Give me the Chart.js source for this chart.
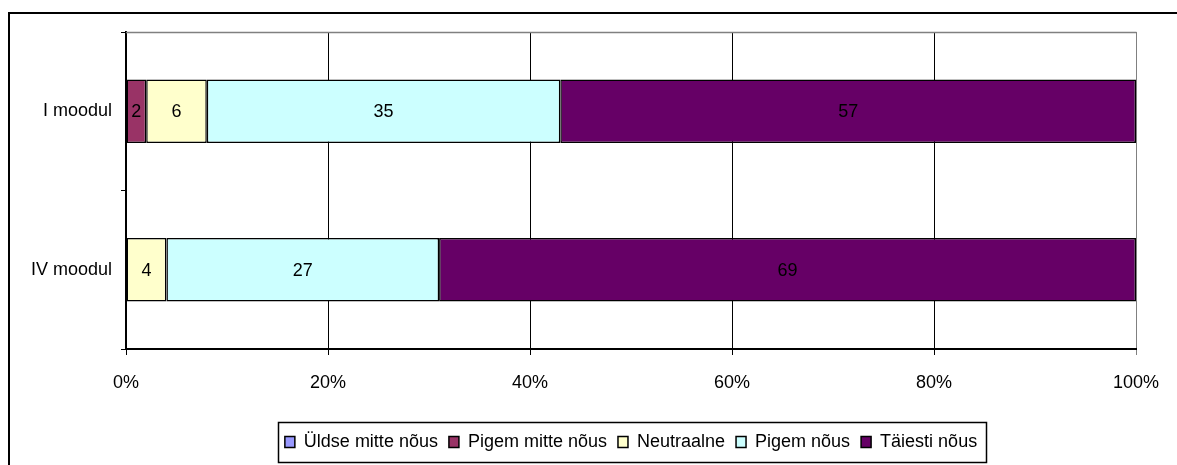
<!DOCTYPE html>
<html><head><meta charset="utf-8">
<script src="https://cdn.jsdelivr.net/npm/chart.js@4"></script>
<style>html,body{margin:0;padding:0;background:#fff;overflow:hidden}canvas{display:block}</style>
</head><body>
<canvas id="c" width="1177" height="465"></canvas>
<script>
const categories = ['I moodul', 'IV moodul'];
const seriesNames = ['Üldse mitte nõus', 'Pigem mitte nõus', 'Neutraalne', 'Pigem nõus', 'Täiesti nõus'];
const uldseMitteNous = [0, 0];
const pigemMitteNous = [2, 0];
const neutraalne = [6, 4];
const pigemNous = [35, 27];
const taiestiNous = [57, 69];
const xTickValues = [0, 20, 40, 60, 80, 100];
const seriesColors = ['#9999FF', '#993366', '#FFFFCC', '#CCFFFF', '#660066'];

const seriesData = [uldseMitteNous, pigemMitteNous, neutraalne, pigemNous, taiestiNous];
const FONT = "'Liberation Sans', Arial, sans-serif";
Chart.defaults.font.family = FONT;
Chart.defaults.font.size = 18;
Chart.defaults.color = '#000';

const framePlugin = {
  id: 'frame',
  beforeDraw(chart) {
    const ctx = chart.ctx;
    ctx.save();
    ctx.fillStyle = '#fff';
    ctx.fillRect(0, 0, chart.width, chart.height);
    ctx.strokeStyle = '#000';
    ctx.lineWidth = 2;
    ctx.strokeRect(9, 13, chart.width + 50, chart.height + 50);
    ctx.restore();
  },
  afterDatasetsDraw(chart) {
    const ctx = chart.ctx, a = chart.chartArea;
    ctx.save();
    ctx.strokeStyle = '#808080';
    ctx.lineWidth = 1.5;
    ctx.beginPath();
    ctx.moveTo(a.left, a.top + 0.5);
    ctx.lineTo(a.right + 0.5, a.top + 0.5);
    ctx.stroke();
    ctx.restore();
    // value labels
    ctx.save();
    ctx.font = '18px ' + FONT;
    ctx.fillStyle = '#000';
    ctx.textAlign = 'center';
    ctx.textBaseline = 'middle';
    chart.data.datasets.forEach((ds, di) => {
      const meta = chart.getDatasetMeta(di);
      meta.data.forEach((el, i) => {
        const v = ds.data[i];
        if (!v) return;
        ctx.fillText(String(v), (el.x + el.base) / 2, el.y + 1);
      });
    });
    ctx.restore();
  },
  afterDraw(chart) {
    const lg = chart.legend;
    if (!lg || !lg.legendHitBoxes || !lg.legendHitBoxes.length) return;
    const hb = lg.legendHitBoxes;
    let l = Infinity, r = -Infinity, cy = 0;
    hb.forEach(h => { l = Math.min(l, h.left); r = Math.max(r, h.left + h.width); cy = h.top + h.height / 2; });
    const ctx = chart.ctx;
    ctx.save();
    ctx.strokeStyle = '#000';
    ctx.lineWidth = 1.5;
    ctx.strokeRect(Math.round(l - 7) + 0.5, Math.round(cy - 20) + 0.5, Math.round(r - l + 16), 40);
    ctx.restore();
  }
};

new Chart(document.getElementById('c'), {
  type: 'bar',
  data: {
    labels: categories,
    datasets: seriesNames.map((name, i) => ({
      label: name,
      data: seriesData[i],
      backgroundColor: seriesColors[i],
      borderColor: '#000',
      borderWidth: 1.5,
      borderSkipped: false,
      categoryPercentage: 1,
      barPercentage: 0.4
    }))
  },
  options: {
    indexAxis: 'y',
    responsive: false,
    animation: false,
    layout: { padding: { top: 32, right: 41, bottom: 4, left: 0 } },
    scales: {
      x: {
        stacked: true,
        min: 0,
        max: 100,
        afterBuildTicks: s => { s.ticks = xTickValues.map(v => ({ value: v })); },
        ticks: { callback: v => v + '%', padding: 17, color: '#000', maxRotation: 0, font: { size: 18 } },
        grid: {
          color: c => (c.tick && c.tick.value === 100) ? '#808080' : '#000',
          lineWidth: 1,
          tickLength: 6,
          drawTicks: true
        },
        border: { color: '#000', width: 2 },
        afterFit: s => { s.height = 73; }
      },
      y: {
        stacked: true,
        offset: true,
        grid: { offset: true, drawOnChartArea: false, color: '#000', tickLength: 5 },
        border: { color: '#000', width: 2 },
        ticks: { padding: 9, color: '#000', font: { size: 18 } },
        afterFit: s => { s.width = 126; }
      }
    },
    plugins: {
      tooltip: { enabled: false },
      legend: {
        position: 'bottom',
        fullSize: false,
        labels: { boxWidth: 10, boxHeight: 11, padding: 11, color: '#000', font: { size: 18 } }
      }
    }
  },
  plugins: [framePlugin]
});
</script>
</body></html>
